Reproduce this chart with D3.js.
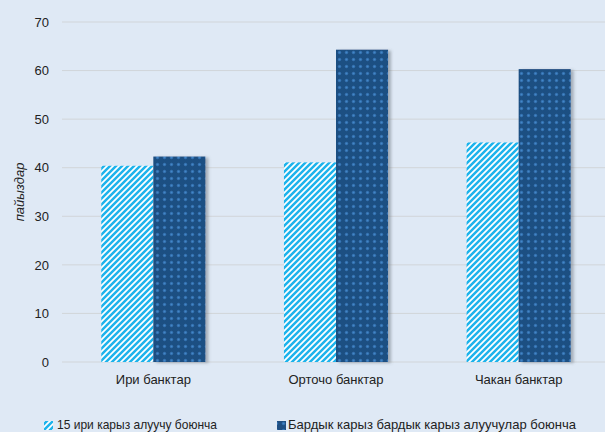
<!DOCTYPE html>
<html><head><meta charset="utf-8">
<script src="https://cdn.jsdelivr.net/npm/d3@7"></script>
<style>body{margin:0;background:#dfe9f5;}svg{display:block;font-family:"Liberation Sans",Arial,sans-serif;}</style>
</head><body>
<script>
const categories = ["Ири банктар", "Орточо банктар", "Чакан банктар"];
const seriesNames = ["15 ири карыз алуучу боюнча", "Бардык карыз бардык карыз алуучулар боюнча"];
const top15 = [40.4, 41.1, 45.2];
const allBorrowers = [42.3, 64.3, 60.3];
const yTicks = [0, 10, 20, 30, 40, 50, 60, 70];
const yLabel = "пайыздар";

const W = 605, H = 432;
const svg = d3.select("body").append("svg").attr("width", W).attr("height", H);
svg.append("rect").attr("width", W).attr("height", H).attr("fill", "#dfe9f5");

const defs = svg.append("defs");
const stripe = defs.append("pattern").attr("id", "stripe").attr("patternUnits", "userSpaceOnUse")
  .attr("width", 6).attr("height", 6);
stripe.append("rect").attr("width", 6).attr("height", 6).attr("fill", "#ffffff");
stripe.append("path").attr("d", "M-1.5,1.5 L1.5,-1.5 M0,6 L6,0 M4.5,7.5 L7.5,4.5")
  .attr("stroke", "#1cb3ec").attr("stroke-width", 2.5);
const dots = defs.append("pattern").attr("id", "dots").attr("patternUnits", "userSpaceOnUse")
  .attr("width", 7).attr("height", 7);
dots.append("rect").attr("width", 7).attr("height", 7).attr("fill", "#1f4f82");
dots.append("circle").attr("cx", 3.5).attr("cy", 3.5).attr("r", 1.7).attr("fill", "#3471b0");
dots.append("circle").attr("cx", 3.5).attr("cy", 3.5).attr("r", 0.8).attr("fill", "#4287c8");
const f = defs.append("filter").attr("id", "shadow").attr("x", "-10%").attr("y", "-10%").attr("width", "130%").attr("height", "130%");
f.append("feDropShadow").attr("dx", 3).attr("dy", 1).attr("stdDeviation", 1.5).attr("flood-color", "#5a6570").attr("flood-opacity", 0.45);

const x0 = d3.scaleBand().domain(categories).range([62, 610]).paddingInner(0.43).paddingOuter(0.215);
const x1 = d3.scaleBand().domain([0, 1]).range([0, x0.bandwidth()]);
const y = d3.scaleLinear().domain([0, 70]).range([362, 22]);

// grid
svg.append("g").selectAll("line").data(yTicks).join("line")
  .attr("x1", 62).attr("x2", W).attr("y1", d => y(d)).attr("y2", d => y(d))
  .attr("stroke", "#d1d5d9").attr("stroke-width", 1);

// y axis labels
const yAxis = d3.axisLeft(y).tickValues(yTicks).tickSize(0).tickPadding(0);
const ya = svg.append("g").attr("transform", "translate(49,0)").call(yAxis);
ya.select(".domain").remove();
ya.selectAll("text").attr("font-size", 13).attr("fill", "#222").attr("font-family", "Liberation Sans, Arial, sans-serif");

svg.append("text").attr("transform", "translate(24,192) rotate(-90)").attr("text-anchor", "middle")
  .attr("font-size", 13).attr("font-style", "italic").attr("fill", "#222").text(yLabel);

// bars
const data = categories.map((c, i) => ({c, vals: [top15[i], allBorrowers[i]]}));
const g = svg.append("g");
data.forEach(d => {
  d.vals.forEach((v, k) => {
    g.append("rect")
      .attr("x", x0(d.c) + x1(k)).attr("width", x1.bandwidth())
      .attr("y", y(v)).attr("height", y(0) - y(v))
      .attr("fill", k === 0 ? "url(#stripe)" : "url(#dots)")
      .attr("filter", k === 1 ? "url(#shadow)" : null);
  });
});

// x axis labels
const xAxis = d3.axisBottom(x0).tickSize(0).tickPadding(0);
const xa = svg.append("g").attr("transform", "translate(0,375)").call(xAxis);
xa.select(".domain").remove();
xa.selectAll("text").attr("font-size", 13).attr("fill", "#222").attr("font-family", "Liberation Sans, Arial, sans-serif");

// legend
const leg = svg.append("g");
const iconX = [44, 277], textX = [57, 288], textW = [160, 288];
seriesNames.forEach((n, k) => {
  leg.append("rect").attr("x", iconX[k]).attr("y", 421).attr("width", 9).attr("height", 9)
    .attr("fill", k === 0 ? "url(#stripe)" : "url(#dots)");
  leg.append("text").attr("x", textX[k]).attr("y", 429).attr("font-size", 13).attr("fill", "#222")
    .attr("textLength", textW[k]).attr("lengthAdjust", "spacingAndGlyphs").text(n);
});
</script>
</body></html>
